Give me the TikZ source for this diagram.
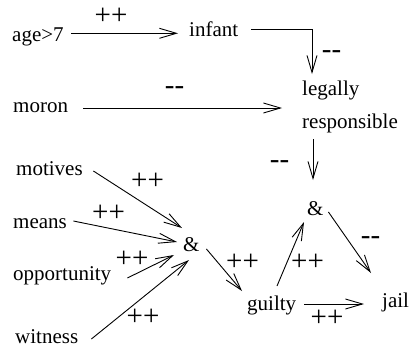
\documentclass[tikz,border=0pt]{standalone}
\usepackage{fontspec}
\setmainfont{Liberation Serif}
\usetikzlibrary{arrows.meta,calc}
\tikzset{
  txt/.style={inner sep=0pt, anchor=base west, font=\fontsize{21pt}{25pt}\selectfont},
  lbl/.style={inner sep=0pt, anchor=base, font=\fontsize{29pt}{34pt}\selectfont},
  arr/.style={line width=0.9pt, -{Straight Barb[length=17pt,width=10pt]}}
}
\begin{document}
\begin{tikzpicture}[x=1pt,y=-1pt]
\useasboundingbox (0,0) rectangle (410,351);
% text nodes
\node[txt] (age)   at (12,41)  {age>7};
\node[txt] (infant) at (189,36) {infant};
\node[txt] (legally) at (302,95) {legally};
\node[txt] (resp)  at (302,128) {responsible};
\node[txt] (moron) at (13,112) {moron};
\node[txt] (motives) at (16,175) {motives};
\node[txt] (means) at (13,228) {means};
\node[txt] (opp)   at (13,280) {opportunity};
\node[txt] (witness) at (15,343) {witness};
\node[txt] (andL)  at (183,251) {\&};
\node[txt] (andR)  at (307,215) {\&};
\node[txt] (guilty) at (247,310) {guilty};
\node[txt] (jail)  at (382,307) {jail};
% labels
\node[lbl] (l1)  at (111,24.3)   {++};
\node[lbl] (l2)  at (331.5,58.5) {-{}-};
\node[lbl] (l3)  at (174.5,94.5) {-{}-};
\node[lbl] (l4)  at (279.5,168.5) {-{}-};
\node[lbl] (l5)  at (370.5,244.5) {-{}-};
\node[lbl] (l6)  at (307.5,270.3) {++};
\node[lbl] (l7)  at (327,326.3)  {++};
\node[lbl] (l8)  at (242.5,270.3) {++};
\node[lbl] (l9)  at (147.5,189.8) {++};
\node[lbl] (l10) at (108.5,221.8) {++};
\node[lbl] (l11) at (132,267.3)  {++};
\node[lbl] (l12) at (143,325.3)  {++};
% connectors
\draw[arr] ($(age.base east)+(7.5,-7.7)$) -- ($(infant.base west)+(-11,-2.7)$);
\draw[arr] ($(infant.base east)+(13,-7)$) -| ($(legally.base west)+(10,-21)$);
\draw[arr] ($(moron.base east)+(15.2,-4)$) -- ($(legally.base west)+(-20,13)$);
\draw[arr] ($(resp.base west)+(11,11)$) -- ($(andR.base west)+(6,-35)$);
\draw[arr] ($(andR.base east)+(4.7,-3)$) -- ($(jail.base west)+(-11,-34)$);
\draw[arr] ($(guilty.base west)+(30,-24)$) -- ($(andR.base west)+(-3,7)$);
\draw[arr] ($(guilty.base east)+(8,-6)$) -- ($(jail.base west)+(-18,-3)$);
\draw[arr] ($(andL.base east)+(6.7,-2)$) -- ($(guilty.base west)+(-5,-19)$);
\draw[arr] ($(motives.base east)+(10.5,-4)$) -- ($(andL.base west)+(-1,-23)$);
\draw[arr] ($(means.base east)+(6.3,-7)$) -- ($(andL.base west)+(-6,-9)$);
\draw[arr] ($(opp.base east)+(16,-2)$) -- ($(andL.base west)+(-9,4)$);
\draw[arr] ($(witness.base east)+(13,-4)$) -- ($(andL.base west)+(6,9)$);
\end{tikzpicture}
\end{document}
